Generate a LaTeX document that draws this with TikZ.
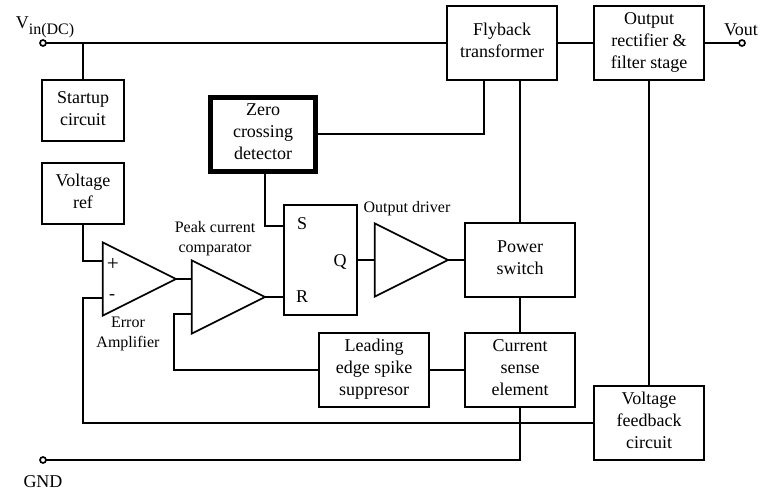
\documentclass[tikz,border=0pt]{standalone}
\usepackage{fontspec}
\setmainfont{Liberation Serif}
\usetikzlibrary{shapes.geometric, positioning}

\begin{document}
\begin{tikzpicture}[
        x=0.75pt, y=-0.75pt,
        line width=1.25pt,
        font=\fontsize{13.5}{16.5}\selectfont,
        small/.style={font=\fontsize{12}{15}\selectfont, align=center, inner sep=0pt},
        label/.style={align=center, inner sep=0pt},
        block/.style={rectangle, draw, align=center, inner sep=0pt, outer sep=0pt, text depth=3.5pt, minimum width=82.5pt, minimum height=55.5pt},
        smallblock/.style={block, minimum width=61.5pt, minimum height=45.75pt},
        amp/.style={isosceles triangle, isosceles triangle stretches, draw, inner sep=0pt, outer sep=0pt, minimum width=55pt, minimum height=55pt, anchor=apex},
        terminal/.style={circle, draw, fill=white, inner sep=0pt, outer sep=0pt, minimum size=4.5pt}
    ]
        \useasboundingbox (0,0) rectangle (762,493);

        \node (vin) [terminal] at (43,43) {};
        \node (vout) [terminal] at (742,43) {};
        \node (gnd) [terminal] at (43,460) {};

        \node (flyback) [block] at (502,43) {Flyback\\transformer};
        \node (rectifier) [block, right=27.75pt of flyback] {Output\\rectifier \&\\filter stage};
        \node (switch) [block] at (520,260) {Power\\switch};
        \node (sense) [block, below=27pt of switch] {Current\\sense\\element};
        \node (leading) [block, left=27pt of sense] {Leading\\edge spike\\suppresor};
        \node (feedback) [block] at (649,423) {Voltage\\feedback\\circuit};

        \node (startup) [smallblock] at (83,110.5) {Startup\\circuit};
        \node (vref) [smallblock, below=16.5pt of startup] {Voltage\\ref};
        \node (zero) [block, line width=3.75pt, minimum width=78.75pt] at (263,134) {Zero\\crossing\\detector};

        \node (latch) [block, minimum width=55pt, minimum height=82.5pt] at (320.5,260) {};
        \node (latchs) [label] at (302,224) {S};
        \node (latchr) [label] at (302,297) {R};
        \node (latchq) [label] at (340,262) {Q};

        \node (error) [amp] at (176,279) {};
        \node (comparator) [amp] at (265,297) {};
        \node (driver) [amp] at (448,260) {};

        \node (plus) [label, font=\fontsize{16}{16}\selectfont] at (113,264) {+};
        \node (minus) [label] at (112,297) {-};

        \node (vinlabel) [label, anchor=base west] at (15,28) {V\raisebox{-4.5pt}{\fontsize{12}{12}\selectfont in(DC)}};
        \node (voutlabel) [label] at (741,30) {Vout};
        \node (gndlabel) [label] at (43,482) {GND};
        \node (peaklabel) [small] at (215,239) {Peak current\\comparator};
        \node (errorlabel) [small] at (128,334) {Error\\Amplifier};
        \node (driverlabel) [small] at (407,209) {Output driver};

        \coordinate (errorplus) at (102.3,261);
        \coordinate (errorminus) at (102.3,298);
        \coordinate (compplus) at (192.3,279);
        \coordinate (compminus) at (192.3,314);
        \coordinate (drivein) at (375.3,260);
        \coordinate (zerobottom) at (265,171);
        \coordinate (lats) at (284,226);
        \coordinate (latr) at (284,297);
        \coordinate (latq) at (357,260);
        \coordinate (switchin) at (465,260);
        \coordinate (flyleft) at (484,80);

        \draw (vin) -- (flyback);
        \draw (flyback) -- (rectifier);
        \draw (rectifier) -- (vout);
        \draw (startup.north) -- (startup.north |- vin);
        \draw (vref.south) |- (errorplus);
        \draw (zero.east) -| (flyleft);
        \draw (zerobottom) |- (lats);
        \draw (flyback.south -| switch) -- (switch.north);
        \draw (switch.south) -- (sense.north);
        \draw (error.apex) -- (compplus);
        \draw (comparator.apex) -- (latr);
        \draw (latq) -- (drivein);
        \draw (driver.apex) -- (switchin);
        \draw (leading.east) -- (sense.west);
        \draw (compminus) -| (174,370) -- (leading.west);
        \draw (errorminus) -| (83,423) -- (feedback.west);
        \draw (rectifier.south) -- (feedback.north);
        \draw (gnd) -| (sense.south);
    \end{tikzpicture}
\end{document}
